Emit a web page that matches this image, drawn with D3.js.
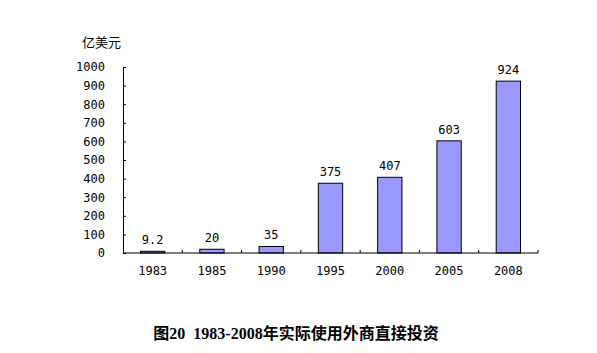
<!DOCTYPE html>
<html>
<head>
<meta charset="utf-8">
<script src="https://cdn.jsdelivr.net/npm/d3@7"></script>
<style>
  body { margin: 0; background: #fff; }
</style>
</head>
<body>
<div id="chart"></div>
<script>
const years = ["1983", "1985", "1990", "1995", "2000", "2005", "2008"];
const values = [9.2, 20, 35, 375, 407, 603, 924];
const valueLabels = ["9.2", "20", "35", "375", "407", "603", "924"];
const yTicks = [0, 100, 200, 300, 400, 500, 600, 700, 800, 900, 1000];

const W = 597, H = 353;
const margin = {top: 67, right: 59, bottom: 100, left: 123},
      width = W - margin.left - margin.right,
      height = H - margin.top - margin.bottom;

const svg = d3.select("#chart")
  .append("svg")
  .attr("width", W)
  .attr("height", H)
  .style("display", "block");

const g = svg.append("g")
  .attr("transform", `translate(${margin.left},${margin.top})`);

const numFont = "'DejaVu Sans Mono', monospace";
const numSize = 12;

const x = d3.scaleBand()
  .domain(years)
  .range([0, width])
  .paddingInner(0.59)
  .paddingOuter(0.295);

const xb = d3.scaleBand().domain(years).range([0, width]);

const y = d3.scaleLinear()
  .domain([0, 1000])
  .range([height, 0]);

// y axis
const yAxis = g.append("g")
  .call(d3.axisLeft(y).tickValues(yTicks).tickFormat(d3.format("d"))
    .tickSize(-3).tickPadding(18).tickSizeOuter(0));
yAxis.select(".domain").attr("stroke", "#000");
yAxis.selectAll("line").attr("stroke", "#000");
yAxis.selectAll("text")
  .attr("font-family", numFont)
  .attr("font-size", numSize)
  .attr("fill", "#000");

// bars
g.selectAll("rect.bar")
  .data(values)
  .join("rect")
  .attr("class", "bar")
  .attr("x", (d, i) => x(years[i]))
  .attr("y", d => y(d))
  .attr("width", x.bandwidth())
  .attr("height", d => height - y(d))
  .attr("fill", "#9999ff")
  .attr("stroke", "#000")
  .attr("stroke-width", 1);

// x axis with ticks between categories
g.append("line")
  .attr("x1", 0).attr("x2", width)
  .attr("y1", height).attr("y2", height)
  .attr("stroke", "#000");

g.selectAll("line.xtick")
  .data(years)
  .join("line")
  .attr("class", "xtick")
  .attr("x1", d => xb(d) + xb.bandwidth())
  .attr("x2", d => xb(d) + xb.bandwidth())
  .attr("y1", height)
  .attr("y2", height - 3)
  .attr("stroke", "#000");

g.selectAll("text.xlab")
  .data(years)
  .join("text")
  .attr("class", "xlab")
  .attr("x", d => xb(d) + xb.bandwidth() / 2)
  .attr("y", height + 22)
  .attr("text-anchor", "middle")
  .attr("font-family", numFont)
  .attr("font-size", numSize)
  .text(d => d);

// value labels
g.selectAll("text.vlab")
  .data(values)
  .join("text")
  .attr("class", "vlab")
  .attr("x", (d, i) => xb(years[i]) + xb.bandwidth() / 2)
  .attr("y", d => y(d) - 7)
  .attr("text-anchor", "middle")
  .attr("font-family", numFont)
  .attr("font-size", numSize)
  .text((d, i) => valueLabels[i]);

// unit
svg.append("text")
  .attr("x", 82)
  .attr("y", 47)
  .attr("font-family", "'Noto Sans CJK SC', sans-serif")
  .attr("font-size", 13)
  .text("亿美元");

// caption
svg.append("text")
  .attr("x", 296)
  .attr("y", 339)
  .attr("text-anchor", "middle")
  .attr("font-family", "'Liberation Serif', 'Noto Sans CJK SC', serif")
  .attr("font-weight", "bold")
  .attr("font-size", 16)
  .attr("xml:space", "preserve")
  .text("图20  1983-2008年实际使用外商直接投资");
</script>
</body>
</html>
